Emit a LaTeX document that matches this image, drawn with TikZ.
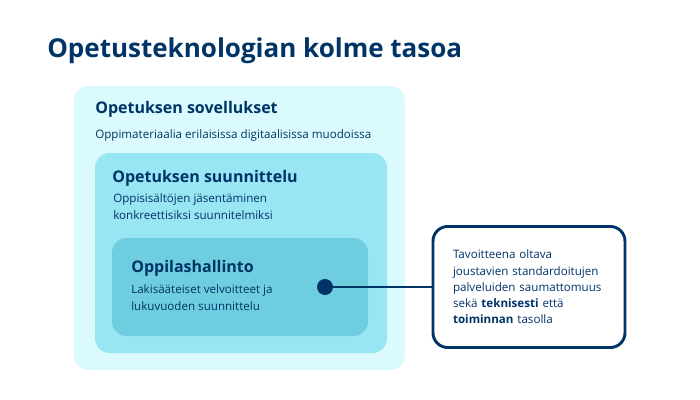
\documentclass[tikz,border=0pt]{standalone}
\usepackage{fontspec}
\setmainfont{Open Sans}
\usetikzlibrary{positioning}
\definecolor{navy}{HTML}{003366}
\definecolor{levelA}{HTML}{DBFAFD}
\definecolor{levelB}{HTML}{98E5F3}
\definecolor{levelC}{HTML}{6ECEDF}
\begin{document}
\begin{tikzpicture}
  [x=0.75pt,y=-0.75pt,
   level/.style={rectangle,rounded corners=11pt,draw=none,anchor=north west,
                 outer sep=0,inner sep=0},
   heading/.style={anchor=base west,inner sep=0,text=navy,font=\fontsize{12}{15}\selectfont\bfseries},
   detail/.style={anchor=base west,inner sep=0,text=navy,align=left,
                  font=\fontsize{8.7}{12.6}\selectfont},
   note/.style={rectangle,rounded corners=11pt,draw=navy,line width=2.2pt,fill=white,
                align=left,text=navy,text width=114pt,inner xsep=14pt,
                minimum width=144pt,minimum height=90.75pt,
                font=\fontsize{8.7}{12.2}\selectfont}]
  \useasboundingbox (0,0) rectangle (700,400);
  \node[anchor=base west,inner sep=0,text=navy,font=\fontsize{19.5}{24}\selectfont\bfseries]
    (title) at (47,57) {Opetusteknologian kolme tasoa};
  % levels
  \node[level,fill=levelA,minimum width=248.25pt,minimum height=213pt] (apps) at (74,86) {};
  \node[level,fill=levelB,minimum width=219pt,minimum height=150pt] (plan) at (95,153) {};
  \node[level,fill=levelC,minimum width=192pt,minimum height=73.5pt] (admin) at (112,238) {};
  \node[heading] (appsT) at (95,113) {Opetuksen sovellukset};
  \node[detail] (appsD) at (95,138) {Oppimateriaalia erilaisissa digitaalisissa muodoissa};
  \node[heading] (planT) at (112,182) {Opetuksen suunnittelu};
  \node[detail] (planD) at (113,219) {Oppisisältöjen jäsentäminen\\konkreettisiksi suunnitelmiksi};
  \node[heading] (adminT) at (131,272) {Oppilashallinto};
  \node[detail] (adminD) at (131,310) {Lakisääteiset velvoitteet ja\\lukuvuoden suunnittelu};
  % callout
  \node[circle,fill=navy,inner sep=0,minimum size=12pt] (dot) at (325,287) {};
  \node[note] (goal) at (529,287)
    {Tavoitteena oltava\\joustavien standardoitujen\\palveluiden saumattomuus\\sekä \textbf{teknisesti} että\\\textbf{toiminnan} tasolla};
  \draw[navy,line width=2.2pt] (dot) -- (goal.west);
\end{tikzpicture}
\end{document}
